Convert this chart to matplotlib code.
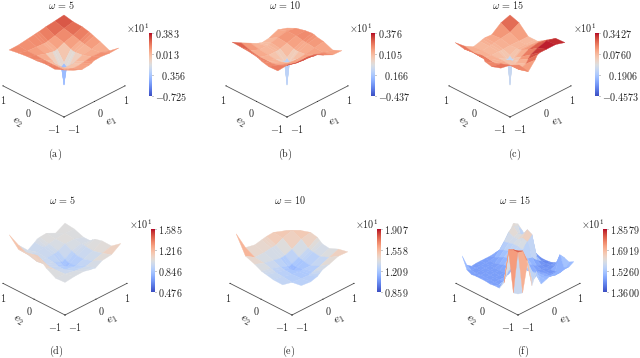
import numpy as np
import matplotlib
matplotlib.use("Agg")
import matplotlib.pyplot as plt
from matplotlib import cm
from matplotlib.colors import Normalize
from mpl_toolkits.mplot3d.art3d import Poly3DCollection
from mpl_toolkits.mplot3d import proj3d

plt.rcParams['mathtext.fontset'] = 'cm'
plt.rcParams['font.family'] = 'DejaVu Serif'
n = np.nan

NODES = [-.9, -.6, -.3, -.08, 0, .08, .3, .6, .9]
NODES_F = [-.9, -.75, -.6, -.45, -.3, -.15, 0, .15, .3, .45, .6, .75, .9]

# surface values as fraction of each colour-bar range; rows e2 low to high, columns e1 low to high
LEVELS_A = [
    [n, .84, .76, .775, .79, .82, .83, .81, .82],
    [.865, .745, .68, .68, .69, .70, .73, .72, .655],
    [.875, .74, .58, .575, .58, .595, .66, .69, .745],
    [.855, .74, .575, .39, .39, .415, .645, .72, .80],
    [.845, .74, .58, .39, 0, .39, .64, .73, .82],
    [.845, .74, .61, .415, .39, .43, .66, .745, .84],
    [.835, .755, .69, .655, .645, .66, .73, .79, .875],
    [.81, .755, .74, .73, .73, .74, .78, .84, .885],
    [.775, .78, .81, .83, .84, .845, .875, .90, .93]]
LEVELS_B = [
    [n, 1.0, .98, .97, .955, .95, .87, .77, .76],
    [.83, .85, .80, .80, .80, .80, .78, .72, .67],
    [.82, .75, .68, .66, .66, .66, .68, .72, .755],
    [.855, .72, .64, .55, .5, .55, .66, .74, .78],
    [.88, .72, .64, .5, 0, .5, .66, .74, .80],
    [.90, .72, .64, .55, .5, .55, .67, .75, .81],
    [.925, .72, .66, .66, .66, .67, .72, .78, .79],
    [.94, .76, .68, .68, .68, .70, .74, .78, .74],
    [.95, .83, .72, .64, .62, .60, .62, .705, .64]]
LEVELS_C = [
    [n, .96, .71, .89, .98, 1.0, 1.0, 1.0, .94],
    [.89, .85, .65, .70, .78, .85, .92, .98, .93],
    [.82, .78, .65, .62, .66, .70, .78, .82, .79],
    [.855, .72, .66, .6, .55, .6, .70, .70, .69],
    [.955, .72, .66, .55, 0, .55, .68, .68, .66],
    [.95, .72, .66, .6, .55, .6, .68, .67, .66],
    [.92, .70, .66, .66, .66, .66, .67, .66, .66],
    [.90, .72, .66, .68, .68, .70, .72, .75, .86],
    [.94, .76, .64, .68, .70, .71, .70, .86, .93]]
LEVELS_D = [
    [.49, .51, .515, .485, .48, .47, .54, .56, .67],
    [.48, .47, .44, .42, .42, .42, .45, .50, .545],
    [.57, .46, .38, .36, .35, .36, .40, .46, .55],
    [.675, .46, .38, .32, .30, .32, .40, .47, .52],
    [.71, .47, .40, .32, .28, .33, .42, .48, .49],
    [.70, .46, .41, .35, .33, .36, .44, .48, .45],
    [.67, .44, .42, .42, .42, .44, .50, .50, .45],
    [.65, .48, .44, .46, .46, .48, .50, .52, .51],
    [.82, .56, .39, .465, .50, .51, .52, .44, .53]]
LEVELS_E = [
    [n, .41, .39, .43, .47, .51, .55, .62, .61],
    [.425, .38, .36, .35, .36, .38, .42, .50, .57],
    [.43, .40, .35, .33, .33, .34, .33, .42, .49],
    [.46, .41, .36, .30, .27, .30, .35, .44, .51],
    [.47, .43, .37, .29, .25, .29, .36, .45, .55],
    [.48, .44, .38, .32, .29, .32, .38, .47, .59],
    [.55, .48, .44, .41, .41, .42, .47, .58, .62],
    [.62, .50, .50, .52, .52, .53, .60, .66, .56],
    [.97, .60, .56, .59, .60, .61, .62, .55, .47]]
LEVELS_F = [
    [.28, .26, .70, .30, .50, .25, .28, .31, .32, .32, .32, .30, .345],
    [.26, .92, .88, .68, .30, .35, .28, .25, .22, .20, .20, .22, .30],
    [.90, .90, .82, .68, .58, .38, .30, .25, .22, .18, .18, .42, .33],
    [.35, .86, .78, .66, .55, .40, .30, .25, .20, .18, .17, .20, .25],
    [.22, .30, .74, .60, .48, .35, .28, .22, .20, .18, .16, .17, .17],
    [.22, .20, .22, .35, .38, .32, .30, .30, .25, .20, .17, .15, .14],
    [.21, .20, .20, .20, .22, .28, .34, .35, .32, .30, .22, .16, .13],
    [.22, .20, .20, .20, .20, .26, .36, .40, .42, .52, .60, .20, .13],
    [.22, .20, .20, .20, .20, .25, .32, .38, .44, .54, .64, .25, .16],
    [.22, .20, .20, .20, .20, .22, .30, .36, .44, .48, .52, .22, .17],
    [.21, .19, .20, .20, .20, .20, .26, .34, .42, .48, .50, .30, .33],
    [.25, .20, .20, .20, .20, .20, .22, .30, .40, .52, .58, .55, .42],
    [.44, .25, .19, .20, .20, .20, .20, .21, .20, .28, .41, .55, .50]]

TITLES = [r"$\omega\,=\,5$", r"$\omega\,=\,10$", r"$\omega\,=\,15$"] * 2
CAPTIONS = ["(a)", "(b)", "(c)", "(d)", "(e)", "(f)"]
CBAR_TICKS = [
    [.383, .013, -.356, -.725],
    [.376, .105, -.166, -.437],
    [.3427, .0760, -.1906, -.4573],
    [1.585, 1.216, .846, .476],
    [1.907, 1.558, 1.209, .859],
    [1.8579, 1.6919, 1.5260, 1.3600]]
H = r"\hspace{0.75}"
CBAR_LABELS = [
    ["$0.383$", "$0.013$", f"${H}0.356$", "$-0.725$"],
    ["$0.376$", "$0.105$", f"${H}0.166$", "$-0.437$"],
    ["$0.3427$", "$0.0760$", f"${H}0.1906$", "$-0.4573$"],
    ["$1.585$", "$1.216$", "$0.846$", "$0.476$"],
    ["$1.907$", "$1.558$", "$1.209$", "$0.859$"],
    ["$1.8579$", "$1.6919$", "$1.5260$", "$1.3600$"]]
ALL_LEVELS = [LEVELS_A, LEVELS_B, LEVELS_C, LEVELS_D, LEVELS_E, LEVELS_F]
ALL_NODES = [NODES] * 5 + [NODES_F]

W, HT = 640, 358
# layout in image pixels (origin top-left)
NEAR = [(64, 117), (287, 117), (510, 117), (65, 315), (292, 315), (518, 315)]
SPAN = [61, 61, 61, 62, 62, 62]
HEIGHT = [45, 45, 45, 58, 50, 60]
BAR_X = [148.5, 371, 595, 151, 377, 603]
BAR_Y = [(33, 96)] * 3 + [(229, 292)] * 3
TITLE_POS = [(62, 5), (285, 5), (508, 5), (63, 200), (290, 200), (515, 200)]
CAP_POS = [(55, 154), (285, 154), (515, 154), (56, 351), (289, 351), (523, 351)]
ELEV = 30.7
FS = 7.3

fig = plt.figure(figsize=(W / 100, HT / 100), dpi=100)
fig.patch.set_facecolor("white")


def ftext(px, py, s, **kw):
    kw.setdefault("ha", "center")
    kw.setdefault("va", "center")
    kw.setdefault("fontsize", FS)
    kw.setdefault("color", "#222222")
    fig.text(px / W, 1 - py / HT, s, **kw)


def to_px(ax, x, y, z):
    ax.apply_aspect()
    X, Y, _ = proj3d.proj_transform(x, y, z, ax.get_proj())
    return ax.transData.transform((X, Y))


for i, levels in enumerate(ALL_LEVELS):
    ticks = CBAR_TICKS[i]
    lo, hi = ticks[-1], ticks[0]
    norm = Normalize(lo, hi)
    cmap = plt.get_cmap("coolwarm")
    Z = lo + np.array(levels, float) * (hi - lo)
    gx = np.array(ALL_NODES[i])

    size = 240
    nx, ny = NEAR[i]
    ax = fig.add_axes([(nx - size / 2) / W, 1 - (ny - 40 + size / 2) / HT, size / W, size / HT],
                      projection="3d")
    ax.patch.set_visible(False)
    ax.set_proj_type("ortho")
    ax.view_init(elev=ELEV, azim=-135)

    polys, cols = [], []
    for r in range(len(gx) - 1):
        for c in range(len(gx) - 1):
            zz = [Z[r, c], Z[r, c + 1], Z[r + 1, c + 1], Z[r + 1, c]]
            if np.any(np.isnan(zz)):
                continue
            polys.append([(gx[c], gx[r], zz[0]), (gx[c + 1], gx[r], zz[1]),
                          (gx[c + 1], gx[r + 1], zz[2]), (gx[c], gx[r + 1], zz[3])])
            cols.append(cmap(norm(np.mean(zz))))
    pc = Poly3DCollection(polys, facecolors=cols, edgecolors=cols, linewidths=0.25, zsort="average")
    ax.add_collection3d(pc)

    h = HEIGHT[i]
    zlow = lo - (hi - lo) / h
    ax.set_xlim(-1, 1)
    ax.set_ylim(-1, 1)
    ax.set_zlim(zlow, hi)
    ax.set_xticks([-1, 0, 1])
    ax.set_yticks([-1, 0, 1])
    ax.set_zticks([])
    ax.set_xticklabels(["", "", ""])
    ax.set_yticklabels(["", "", ""])
    ax.grid(False)
    for a in (ax.xaxis, ax.yaxis, ax.zaxis):
        a.pane.set_visible(False)
        a.line.set_linewidth(0.6)
        a.line.set_color("#555555")
        a._axinfo["tick"]["inward_factor"] = 0.01
        a._axinfo["tick"]["outward_factor"] = 0.03
        a._axinfo["tick"]["linewidth"] = {True: 0.5, False: 0.5}
        a._axinfo["tick"]["color"] = "#444444"
    ax.zaxis.line.set_color((0, 0, 0, 0))

    # fit box size and place near corner on its pixel
    span = SPAN[i]
    L = span / np.cos(np.radians(45))
    zh = (h + 1) / np.cos(np.radians(ELEV))
    aspect = (1, 1, zh / L)
    zoom = 1.0
    for _ in range(3):
        ax.set_box_aspect(aspect, zoom=zoom)
        a0 = to_px(ax, -1, -1, zlow)
        a1 = to_px(ax, 1, -1, zlow)
        zoom *= span / abs(a1[0] - a0[0])
    ax.set_box_aspect(aspect, zoom=zoom)
    a0 = to_px(ax, -1, -1, zlow)
    pos = ax.get_position()
    ax.set_position([pos.x0 + (nx - a0[0]) / W, pos.y0 + ((HT - ny) - a0[1]) / HT, pos.width, pos.height])

    # colour bar
    by0, by1 = BAR_Y[i]
    bx = BAR_X[i]
    cax = fig.add_axes([bx / W, 1 - by1 / HT, 3.5 / W, (by1 - by0) / HT])
    sm = cm.ScalarMappable(norm=norm, cmap=cmap)
    cb = fig.colorbar(sm, cax=cax, ticks=ticks)
    cb.ax.set_yticklabels(CBAR_LABELS[i], fontsize=FS, color="#222222")
    cb.outline.set_visible(False)
    cb.ax.tick_params(length=1.0, width=0.4, pad=1.2, color="#444444", direction="out")
    ftext(bx + 1, by0 - 5, r"$\times 10^1$", ha="right")

    # text
    ftext(*TITLE_POS[i], TITLES[i])
    ftext(*CAP_POS[i], rf"$\mathrm{{{CAPTIONS[i]}}}$")
    for dx, dy, s in [(-64, -17, "$1$"), (-36, -4, "$0$"), (-10, 12, "$-1$"),
                      (10, 12, "$-1$"), (36, -4, "$0$"), (62, -17, "$1$")]:
        ftext(max(nx + dx, 3), ny + dy, s)
    ftext(nx - 47, ny + 5, r"$e_2$", rotation=-30, fontsize=8.5)
    ftext(nx + 48, ny + 5, r"$e_1$", rotation=30, fontsize=8.5)

fig.savefig("out.png", dpi=100, facecolor="white")
